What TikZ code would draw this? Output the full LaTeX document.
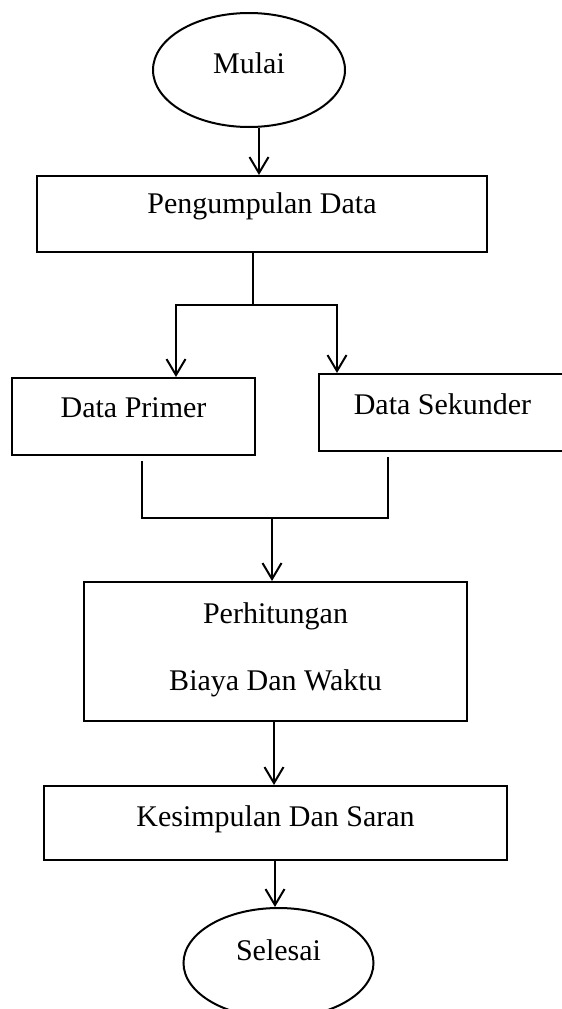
\documentclass[tikz,border=0pt]{standalone}
\usepackage{fontspec}
\setmainfont{Liberation Serif}
\usetikzlibrary{arrows.meta,shapes.geometric}
\newcommand{\up}[2]{\raisebox{#1}[\height][\depth]{#2}}
\begin{document}
\begin{tikzpicture}[x=1pt,y=-1pt,
  every node/.style={inner sep=0pt, font=\fontsize{30}{36}\selectfont},
  box/.style={draw, line width=2pt, rectangle},
  term/.style={draw, line width=2pt, ellipse},
  conn/.style={line width=2pt},
  arr/.style={conn, -{Straight Barb[length=16pt,width=19pt]}}]
\useasboundingbox (0,0) rectangle (562,1009);
\clip (0,0) rectangle (562,1009);
\fill[white] (0,0) rectangle (562,1009);

\node[term, minimum width=192pt, minimum height=114pt] (mulai) at (249,70) {\up{7pt}{Mulai}};
\node[box, minimum width=450pt, minimum height=76pt] (pd) at (262,214) {\up{8pt}{Pengumpulan Data}};
\node[box, minimum width=243pt, minimum height=77pt] (dp) at (133.5,416.5) {\up{8.8pt}{Data Primer}};
\node[box, minimum width=247pt, minimum height=77pt] (ds) at (442.5,412.5) {\up{7.8pt}{Data Sekunder}};
\node[box, minimum width=383pt, minimum height=139pt, align=center, font=\fontsize{30}{67}\selectfont] (ph) at (275.5,651.5) {\up{2pt}{Perhitungan}\\ \up{2pt}{Biaya Dan Waktu}};
\node[box, minimum width=463pt, minimum height=74pt] (ks) at (275.5,823) {\up{3.5pt}{Kesimpulan Dan Saran}};
\node[term, minimum width=190pt, minimum height=110pt] (sl) at (278.5,963) {\up{13pt}{Selesai}};

\coordinate (split) at (253,305);
\coordinate (bl) at (176,305);
\coordinate (br) at (337,305);
\coordinate (ml) at (142,518);
\coordinate (mr) at (388,518);
\coordinate (mj) at (272,518);

\draw[arr] ([xshift=10pt]mulai.south) -- ([xshift=10pt]mulai.south |- pd.north);
\draw[conn] (split |- pd.south) -- (split);
\draw[arr] (split) -| (bl |- dp.north);
\draw[arr] (split) -| (br |- ds.north);
\draw[conn] ([yshift=-5pt]dp.south -| ml) |- (mr) -- ([yshift=-5pt]ds.south -| mr);
\draw[arr] (mj) -- (mj |- ph.north);
\draw[arr] ([xshift=-1.5pt]ph.south) -- ([xshift=-1.5pt]ph.south |- ks.north);
\draw[arr] ([xshift=-0.5pt]ks.south) -- ([xshift=-0.5pt]ks.south |- sl.north);
\end{tikzpicture}
\end{document}
